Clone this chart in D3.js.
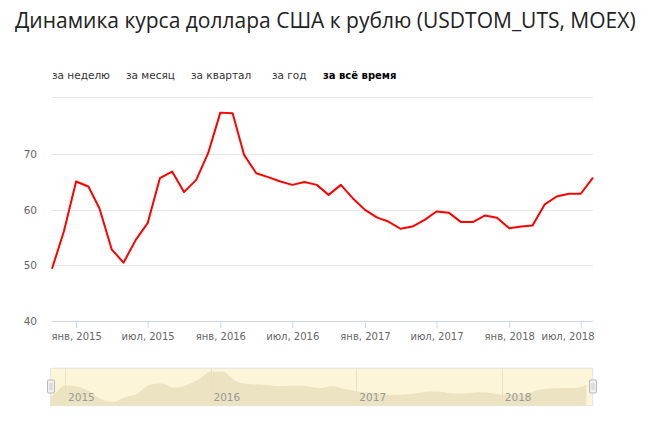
<!DOCTYPE html>
<html><head><meta charset="utf-8">
<script src="https://cdn.jsdelivr.net/npm/d3@7/dist/d3.min.js"></script>
<style>
html,body{margin:0;padding:0;background:#fff;}
svg{display:block;}
</style></head>
<body>
<svg id="c" width="650" height="426"></svg>
<script>
// ---- data ----
const titleText = "Динамика курса доллара США к рублю (USDTOM_UTS, MOEX)";
const tabs = ["за неделю", "за месяц", "за квартал", "за год", "за всё время"];
const tabX = [52, 126, 191, 272, 323];
const months = ["2014-11","2014-12",
 "2015-01","2015-02","2015-03","2015-04","2015-05","2015-06","2015-07","2015-08","2015-09","2015-10","2015-11","2015-12",
 "2016-01","2016-02","2016-03","2016-04","2016-05","2016-06","2016-07","2016-08","2016-09","2016-10","2016-11","2016-12",
 "2017-01","2017-02","2017-03","2017-04","2017-05","2017-06","2017-07","2017-08","2017-09","2017-10","2017-11","2017-12",
 "2018-01","2018-02","2018-03","2018-04","2018-05","2018-06","2018-07","2018-08"];
const rate = [49.4, 56.1,
 65.1, 64.2, 60.3, 52.9, 50.5, 54.6, 57.6, 65.7, 66.9, 63.2, 65.4, 70.2,
 77.5, 77.4, 69.9, 66.6, 65.9, 65.1, 64.5, 65.0, 64.5, 62.7, 64.5, 62.1,
 60.0, 58.6, 57.9, 56.6, 57.0, 58.2, 59.7, 59.5, 57.8, 57.8, 59.0, 58.6,
 56.7, 57.0, 57.2, 61.0, 62.4, 62.9, 62.9, 65.8];
const yTicks = [40, 50, 60, 70];
const xTicks = ["2015-01","2015-07","2016-01","2016-07","2017-01","2017-07","2018-01","2018-07"];
const monthNames = ["янв","фев","мар","апр","май","июн","июл","авг","сен","окт","ноя","дек"];
const navYears = ["2015","2016","2017","2018"];

// ---- setup ----
const parseM = d3.timeParse("%Y-%m");
const data = months.map((m, i) => ({date: parseM(m), v: rate[i]}));
const svg = d3.select("#c");

// title
const title = svg.append("text").attr("x", 15).attr("y", 28)
  .attr("font-family", "'Open Sans', sans-serif").attr("font-size", 20)
  .attr("fill", "#222").text(titleText);
const tw = title.node().getComputedTextLength();
title.attr("font-size", 20 * 621 / tw);

// tabs
svg.selectAll("text.tab").data(tabs).join("text").attr("class", "tab")
  .attr("x", (d, i) => tabX[i]).attr("y", 79)
  .attr("font-family", "'DejaVu Sans', Verdana, sans-serif")
  .attr("font-size", (d, i) => i === tabs.length - 1 ? 10 : 10.5)
  .attr("font-weight", (d, i) => i === tabs.length - 1 ? "bold" : "normal")
  .attr("fill", (d, i) => i === tabs.length - 1 ? "#000" : "#333")
  .text(d => d);

// scales
const pLeft = 52, pRight = 593, pBottom = 321, pTop = 96.7;
const x = d3.scaleTime().domain([parseM("2014-11"), parseM("2018-08")]).range([pLeft, pRight]);
const y = d3.scaleLinear().domain([40, 70]).range([pBottom, 154.3]);

// grid
const g = svg.append("g");
g.selectAll("line.grid").data(yTicks.slice(1)).join("line").attr("class", "grid")
  .attr("x1", pLeft).attr("x2", pRight).attr("y1", d => Math.round(y(d)) + 0.5).attr("y2", d => Math.round(y(d)) + 0.5)
  .attr("stroke", "#e6e6e6").attr("stroke-width", 1);
g.append("line").attr("x1", pLeft).attr("x2", pRight).attr("y1", Math.round(pTop) + 0.5).attr("y2", Math.round(pTop) + 0.5)
  .attr("stroke", "#e6e6e6");

// y labels
g.selectAll("text.yl").data(yTicks).join("text").attr("class", "yl")
  .attr("x", 37).attr("y", d => y(d) + 4).attr("text-anchor", "end")
  .attr("font-family", "'DejaVu Sans', Verdana, sans-serif").attr("font-size", 10.5)
  .attr("fill", "#666").text(d => d);

// x axis
const xAxis = d3.axisBottom(x).tickValues(xTicks.map(parseM)).tickSize(7).tickPadding(5)
  .tickFormat(d => monthNames[d.getMonth()] + ", " + d.getFullYear());
const ax = svg.append("g").attr("transform", `translate(0,${pBottom})`).call(xAxis);
ax.select(".domain").attr("stroke", "#ccd6eb").attr("d", `M${pLeft},0.5H${pRight}`);
ax.selectAll(".tick line").attr("stroke", "#ccd6eb");
ax.selectAll(".tick text").attr("font-family", "'DejaVu Sans', Verdana, sans-serif")
  .attr("font-size", 10).attr("fill", "#666");
// keep labels inside the plot width (like the original)
ax.selectAll(".tick").each(function(d) {
  const t = d3.select(this).select("text");
  const w = t.node().getComputedTextLength();
  const cx = x(d);
  if (cx + w / 2 > pRight + 1) t.attr("dx", (pRight + 1 - w / 2 - cx));
  if (cx - w / 2 < pLeft - 1) t.attr("dx", (pLeft - 1 + w / 2 - cx));
});

// line
const line = d3.line().x(d => x(d.date)).y(d => y(d.v));
svg.append("path").datum(data).attr("d", line).attr("fill", "none")
  .attr("stroke", "#ff0000").attr("stroke-width", 2).attr("stroke-linejoin", "round");

// navigator
const nL = 50.7, nR = 592.7, nT = 368.3, nB = 405.7;
const nx = d3.scaleTime().domain([new Date(2014, 10, 26), new Date(2018, 7, 17)]).range([nL, nR]);
const ny = d3.scaleLinear().domain([46.9, 80.6]).range([nB, nT]);
svg.append("clipPath").attr("id", "navclip").append("rect")
  .attr("x", nL).attr("y", nT).attr("width", nR - nL).attr("height", nB - nT);
svg.append("rect").attr("x", nL).attr("y", nT).attr("width", nR - nL).attr("height", nB - nT)
  .attr("fill", "#fdf5d8").attr("stroke", "#e3e3e3").attr("stroke-width", 1);
const ng = svg.append("g").attr("clip-path", "url(#navclip)");
const area = d3.area().x(d => nx(d.date)).y0(nB).y1(d => ny(d.v)).curve(d3.curveMonotoneX);
ng.append("path").datum(data).attr("d", area).attr("fill", "#ece3c3");
ng.selectAll("line.ny").data(navYears).join("line").attr("class", "ny")
  .attr("x1", d => Math.round(nx(new Date(+d, 0, 1))) + 0.5).attr("x2", d => Math.round(nx(new Date(+d, 0, 1))) + 0.5)
  .attr("y1", nT).attr("y2", nB).attr("stroke", "#ebe1bd").attr("stroke-width", 1);
ng.selectAll("text.nyl").data(navYears).join("text").attr("class", "nyl")
  .attr("x", d => nx(new Date(+d, 0, 1)) + 3).attr("y", 401)
  .attr("font-family", "'DejaVu Sans', Verdana, sans-serif").attr("font-size", 10.5)
  .attr("fill", "#999").text(d => d);

// handles
[nL, nR].forEach(hx => {
  const h = svg.append("g").attr("transform", `translate(${Math.round(hx)},386.5)`);
  h.append("rect").attr("x", -3.5).attr("y", -6.5).attr("width", 7).attr("height", 13)
    .attr("fill", "#f2f2f2").attr("stroke", "#b8b8b8").attr("stroke-width", 1).attr("rx", 1);
  h.append("path").attr("d", "M-1,-3.5V3.5M1,-3.5V3.5").attr("stroke", "#c8c8c8").attr("stroke-width", 1);
});
</script>
</body></html>
